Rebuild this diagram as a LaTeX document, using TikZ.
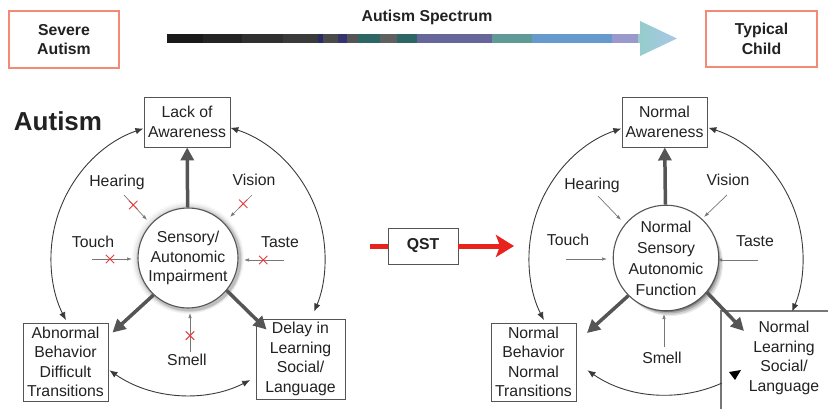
\documentclass[tikz,border=0pt]{standalone}
\usepackage{fontspec}
\setmainfont{Liberation Sans}
\usetikzlibrary{arrows.meta,shapes.misc,calc}
\definecolor{salmon}{HTML}{F28A76}
\definecolor{boxgray}{HTML}{555555}
\definecolor{txtcol}{HTML}{222222}
\definecolor{arcgray}{HTML}{3A3A3A}
\definecolor{sensegray}{HTML}{777777}
\definecolor{qred}{HTML}{E8221C}
\definecolor{xred}{HTML}{E83A3A}
\newcommand\fs{\fontsize{15.8}{19.5}\selectfont}
\tikzset{
  box/.style={draw=boxgray, line width=0.9pt, fill=white, align=center, inner sep=0pt, text=txtcol, font=\fs},
  topbox/.style={draw=salmon, line width=1.3pt, fill=white, align=center, inner sep=0pt, text=txtcol, font=\fs\bfseries},
  lbl/.style={text=txtcol, font=\fs, inner sep=1pt},
  core/.style={circle, draw=boxgray, line width=1.1pt, fill=white, minimum size=100pt, inner sep=0pt, align=center, text=txtcol, font=\fs},
  bigarrow/.style={draw=boxgray, line width=3.5pt, arrows={-Triangle[length=13pt,width=13pt]}},
  arcboth/.style={draw=arcgray, line width=0.9pt, arrows={Latex[length=8pt,width=6.5pt]-Latex[length=8pt,width=6.5pt]}},
  arcstart/.style={draw=arcgray, line width=0.9pt, arrows={Latex[length=8pt,width=6.5pt]-}},
  sense/.style={draw=sensegray, line width=0.7pt, arrows={-Latex[length=5pt,width=3.5pt]}},
  xmark/.style={cross out, draw=xred, line width=0.9pt, minimum size=7.5pt, inner sep=0pt},
  qline/.style={draw=qred, line width=5pt},
  qarrow/.style={draw=qred, line width=5pt, arrows={-Stealth[length=18pt,width=22pt,inset=4pt]}},
}
\begin{document}
\begin{tikzpicture}[x=1pt,y=-1pt]
\useasboundingbox (0,0) rectangle (828,409);

% ---------- top row ----------
\node[topbox, minimum width=110pt, minimum height=57pt] (severe) at (64,39.5) {Severe\\Autism};
\node[topbox, minimum width=111pt, minimum height=56pt] (typical) at (761.5,39) {Typical\\Child};
\node[text=txtcol, font=\fs\bfseries] (spec) at (427,17) {Autism Spectrum};

\foreach \a/\b/\c in {167/203/1A1A1A, 203/242/242424, 242/283/303030, 283/318/3A3A3A,
  318/323/2A2A66, 323/338/4A4A4A, 338/347/34346E, 347/358/555555, 358/380/2E6666,
  380/397/606060, 397/417/2E6666, 417/492/66669A, 492/532/5F9A96, 532/612/6699CC,
  612/638/9999CC, 638/644/99CCCC} {
  \definecolor{seg}{HTML}{\c}
  \fill[seg] (\a,34) rectangle (\b+0.3,43);
}
\shade[left color={rgb,255:red,150;green,204;blue,204}, right color={rgb,255:red,168;green,200;blue,232}]
  (640,21) -- (677,38.5) -- (640,56) -- cycle;

% ---------- left diagram ----------
\node[font=\fontsize{26}{30}\selectfont\bfseries, text=txtcol] (autism) at (58,121) {Autism};

\coordinate (c1p) at (188,258);
\foreach \o/\r/\op in {0/56/0.03, 0.5/54.5/0.05, 1/53/0.08, 1.5/51.8/0.12} {
  \fill[black, opacity=\op] ($(c1p)+(\o,\o)$) circle (\r);
}
\node[core] (c1) at (c1p) {Sensory/\\Autonomic\\Impairment};

\node[box, minimum width=86pt, minimum height=50pt] (law) at (187,122) {Lack of\\Awareness};
\node[box, minimum width=85pt, minimum height=78pt] (ab) at (65.5,362) {Abnormal\\Behavior\\Difficult\\Transitions};
\node[box, minimum width=89pt, minimum height=80pt] (dl) at (300.5,359) {Delay in\\Learning\\Social/\\Language};

\draw[bigarrow] (c1) -- (law);
\draw[bigarrow] (c1.227) -- ($(ab.north east)+(4,10)$);
\draw[bigarrow] (c1.-40) -- ($(dl.north west)+(11,11)$);

\draw[arcboth] ([shift={(-109:137)}]c1.center) arc[start angle=-109, end angle=-207, radius=137];
\draw[arcboth] ([shift={(-72:137)}]c1.center) arc[start angle=-72, end angle=23, radius=137];
\draw[arcboth] ([shift={(-235:137)}]c1.center) arc[start angle=-235, end angle=-297, radius=137];

\node[lbl] (hear1) at (117,182) {Hearing};
\node[lbl] (vis1) at (254,180) {Vision};
\node[lbl] (touch1) at (93,242) {Touch};
\node[lbl] (taste1) at (280,242) {Taste};
\node[lbl] (smell1) at (187,360) {Smell};

\coordinate (h1a) at (124,195); \coordinate (h1b) at (147,220);
\coordinate (v1a) at (252,195); \coordinate (v1b) at (230,217);
\coordinate (t1a) at (92,259);  \coordinate (t1b) at (132,259);
\coordinate (s1a) at (284,260); \coordinate (s1b) at (244,260);
\coordinate (m1a) at (190,352); \coordinate (m1b) at (190,313);
\draw[sense] (h1a) -- (h1b) node[xmark, pos=0.4] {};
\draw[sense] (v1a) -- (v1b) node[xmark, pos=0.4] {};
\draw[sense] (t1a) -- (t1b) node[xmark, pos=0.45] {};
\draw[sense] (s1a) -- (s1b) node[xmark, pos=0.52] {};
\draw[sense] (m1a) -- (m1b) node[xmark, pos=0.42] {};

% ---------- QST ----------
\node[box, font=\fs\bfseries, minimum width=70pt, minimum height=36pt] (qst) at (423,246) {QST};
\coordinate (q0) at (370,246);
\coordinate (q1) at (514,246);
\draw[qline] (q0) -- (qst.west);
\draw[qarrow] (qst.east) -- (q1);

% ---------- right diagram ----------
\coordinate (c2p) at (666,258);
\foreach \o/\r/\op in {5/52/0.07, 4/52/0.11, 3/51.5/0.18, 2/51/0.27, 1/50.5/0.32} {
  \fill[black, opacity=\op] ($(c2p)+(\o,\o+1)$) circle (\r);
}
\node[core, font=\fontsize{15.8}{21}\selectfont] (c2) at (c2p) {Normal\\Sensory\\Autonomic\\Function};

\node[box, minimum width=85pt, minimum height=50pt] (na) at (664.5,122) {Normal\\Awareness};
\node[box, minimum width=85pt, minimum height=78pt] (nb) at (533.5,362) {Normal\\Behavior\\Normal\\Transitions};
\node[lbl, align=center, font=\fontsize{15.8}{19.7}\selectfont] (nl) at (784,358) {Normal\\Learning\\Social/\\Language};
\draw[draw=sensegray, line width=1.4pt] (721,409) -- (721,311) -- (828,311);

\coordinate (nbtip) at (587,333);
\coordinate (nltip) at (744,331);
\draw[bigarrow] (c2) -- (na);
\draw[bigarrow] (c2.225) -- (nbtip);
\draw[bigarrow] (c2.-40) -- (nltip);

\draw[arcboth] ([shift={(-109:137)}]c2.center) arc[start angle=-109, end angle=-207, radius=137];
\draw[arcboth] ([shift={(-72:137)}]c2.center) arc[start angle=-72, end angle=23, radius=137];
\draw[arcstart] ([shift={(-235:137)}]c2.center) arc[start angle=-235, end angle=-294, radius=137];
\fill[black] (729,372) -- (741,370) -- (735,380) -- cycle;

\node[lbl] (hear2) at (592,185) {Hearing};
\node[lbl] (vis2) at (728,180) {Vision};
\node[lbl] (touch2) at (568,240) {Touch};
\node[lbl] (taste2) at (755,241) {Taste};
\node[lbl] (smell2) at (662,358) {Smell};

\coordinate (h2a) at (598,196); \coordinate (h2b) at (621,220);
\coordinate (v2a) at (727,195); \coordinate (v2b) at (704,217);
\coordinate (t2a) at (566,259); \coordinate (t2b) at (607,259);
\coordinate (s2a) at (758,260); \coordinate (s2b) at (717,260);
\coordinate (m2a) at (664,347); \coordinate (m2b) at (664,314);
\draw[sense] (h2a) -- (h2b);
\draw[sense] (v2a) -- (v2b);
\draw[sense] (t2a) -- (t2b);
\draw[sense] (s2a) -- (s2b);
\draw[sense] (m2a) -- (m2b);
\end{tikzpicture}
\end{document}
